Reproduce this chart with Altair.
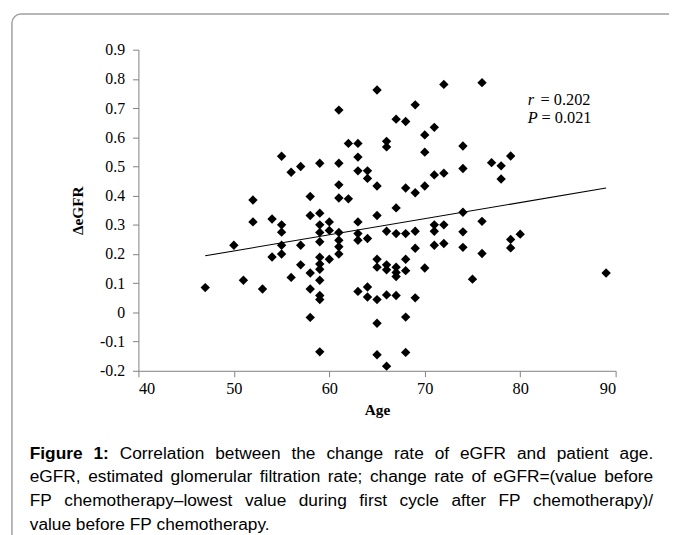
import altair as alt
import pandas as pd

# ---------------- data ----------------
age = [47, 50, 51, 52, 52, 53, 54, 54,
       55, 55, 55, 55, 55, 56, 56, 57, 57, 57,
       58, 58, 58, 58, 58,
       59, 59, 59, 59, 59, 59, 59, 59, 59, 59, 59, 59,
       60, 60, 60,
       61, 61, 61, 61, 61, 61, 61, 61,
       62, 62,
       63, 63, 63, 63, 63, 63, 63,
       64, 64, 64, 64, 64,
       65, 65, 65, 65, 65, 65, 65, 65,
       66, 66, 66, 66, 66, 66, 66,
       67, 67, 67, 67, 67, 67, 67,
       68, 68, 68, 68, 68, 68, 68,
       69, 69, 69, 69, 69,
       70, 70, 70, 70,
       71, 71, 71, 71, 71,
       72, 72, 72, 72,
       74, 74, 74, 74, 74,
       75, 76, 76, 76, 77, 78, 78, 79, 79, 79, 80, 89]

delta_egfr = [0.085, 0.23, 0.11, 0.385, 0.31, 0.08, 0.32, 0.19,
              0.535, 0.30, 0.275, 0.23, 0.20, 0.48, 0.12, 0.50, 0.23, 0.163,
              0.397, 0.332, 0.135, 0.08, -0.017,
              0.511, 0.34, 0.30, 0.274, 0.242, 0.189, 0.166, 0.148, 0.11, 0.058, 0.044, -0.135,
              0.31, 0.281, 0.182,
              0.693, 0.511, 0.437, 0.392, 0.274, 0.247, 0.225, 0.20,
              0.579, 0.389,
              0.579, 0.532, 0.485, 0.31, 0.27, 0.247, 0.072,
              0.485, 0.459, 0.253, 0.087, 0.053,
              0.762, 0.433, 0.332, 0.182, 0.155, 0.044, -0.037, -0.145,
              0.586, 0.567, 0.278, 0.163, 0.146, 0.06, -0.184,
              0.662, 0.358, 0.27, 0.155, 0.137, 0.123, 0.058,
              0.654, 0.426, 0.27, 0.182, 0.143, -0.016, -0.137,
              0.711, 0.41, 0.278, 0.22, 0.05,
              0.608, 0.549, 0.433, 0.152,
              0.634, 0.471, 0.30, 0.278, 0.23,
              0.781, 0.477, 0.30, 0.236,
              0.57, 0.493, 0.343, 0.276, 0.223,
              0.114, 0.787, 0.312, 0.202, 0.513, 0.502, 0.457, 0.536, 0.25, 0.221, 0.268, 0.135]

# fitted line end points (as drawn)
line_age = [47, 89]
line_val = [0.194, 0.426]

x_ticks = [40, 50, 60, 70, 80, 90]
y_ticks = [-0.2, -0.1, 0, 0.1, 0.2, 0.3, 0.4, 0.5, 0.6, 0.7, 0.8, 0.9]

caption_lines = [
    [("Figure", True), ("1:", True)] + [(w, False) for w in
        "Correlation between the change rate of eGFR and patient age.".split(" ")],
    [(w, False) for w in
        "eGFR, estimated glomerular filtration rate; change rate of eGFR=(value before".split(" ")],
    [(w, False) for w in
        "FP chemotherapy\u2013lowest value during first cycle after FP chemotherapy)/".split(" ")],
    [(w, False) for w in "value before FP chemotherapy.".split(" ")],
]

# ---------------- layout helpers ----------------
W, H = 483, 325
SERIF = "Liberation Serif"
SANS = "Liberation Sans"
CAP_SIZE = 17.5

W_REG = {' ': 278, 'a': 556, 'b': 556, 'c': 500, 'd': 556, 'e': 556, 'f': 278, 'g': 556,
         'h': 556, 'i': 222, 'l': 222, 'm': 833, 'n': 556, 'o': 556, 'p': 556, 'r': 333,
         's': 500, 't': 278, 'u': 556, 'v': 500, 'w': 722, 'y': 500, 'C': 722, 'F': 611,
         'G': 778, 'P': 667, 'R': 722, '.': 278, ',': 278, ';': 278, ':': 278, '=': 584,
         '(': 333, ')': 333, '/': 278, '\u2013': 556, '1': 556}
W_BOLD = {' ': 278, 'F': 611, 'i': 278, 'g': 611, 'u': 611, 'r': 389, 'e': 556, '1': 556, ':': 333}


def tw(s, bold):
    tbl = W_BOLD if bold else W_REG
    return sum(tbl.get(ch, 556) for ch in s) * CAP_SIZE / 1000.0


left_px, right_px = 30 - 140, 661 - 140
line_y = [409, 433, 457, 481]
rows = []
for li, words in enumerate(caption_lines):
    widths = [tw(w, b) for w, b in words]
    if li < 3:
        gap = (right_px - left_px - sum(widths)) / (len(words) - 1)
    else:
        gap = tw(" ", False)
    x = left_px
    for (w, b), wd in zip(words, widths):
        rows.append({"px": x, "py": line_y[li], "word": w, "bold": b})
        x += wd + gap
cap = pd.DataFrame(rows)

pts = pd.DataFrame({"age": age, "val": delta_egfr})
fit = pd.DataFrame({"age": line_age, "val": line_val})

xscale = alt.Scale(domain=[40, 90], nice=False, zero=False)
yscale = alt.Scale(domain=[-0.2, 0.9], nice=False, zero=False)

AX = "#808080"
xaxis = alt.Axis(values=x_ticks, title="Age", grid=False, tickSize=6, labelPadding=4,
                 labelFont=SERIF, labelFontSize=16.5, labelColor="black", labelOverlap=False,
                 domainColor=AX, tickColor=AX, titleFont=SERIF, titleFontSize=15.5,
                 titleFontWeight="bold", titleColor="black", titleY=39, titleX=W / 2,
                 titleBaseline="middle", titleAlign="center")
yaxis = alt.Axis(values=y_ticks, title="\u0394eGFR", grid=False, tickSize=6, labelPadding=8,
                 labelFont=SERIF, labelFontSize=16, labelColor="black", labelOverlap=False,
                 labelExpr="datum.value == 0 ? '0' : (datum.value < 0 ? '-' : '') + format(abs(datum.value), '.1f')",
                 domainColor=AX, tickColor=AX, titleFont=SERIF, titleFontSize=15.5,
                 titleFontWeight="bold", titleColor="black", titleAngle=270,
                 titleX=-62, titleY=H / 2, titleBaseline="middle", titleAlign="center")

points = alt.Chart(pts).mark_point(shape="diamond", filled=True, size=90, color="black",
                                   opacity=1).encode(
    x=alt.X("age:Q", scale=xscale, axis=xaxis),
    y=alt.Y("val:Q", scale=yscale, axis=yaxis),
)

line = alt.Chart(fit).mark_line(color="black", strokeWidth=1.1).encode(
    x=alt.X("age:Q", scale=xscale, axis=xaxis),
    y=alt.Y("val:Q", scale=yscale, axis=yaxis),
)

one = pd.DataFrame({"k": [0]})


def txt(s, x, y, **kw):
    return alt.Chart(one).mark_text(align="left", baseline="middle", font=SERIF,
                                    fontSize=16.5, color="black", **kw).encode(
        x=alt.value(x), y=alt.value(y), text=alt.value(s))


ann = [
    txt("r", 394, 51, fontStyle="italic"),
    txt("= 0.202", 407, 51),
    txt("P", 394, 69, fontStyle="italic"),
    txt("= 0.021", 408, 69),
]

cap_reg = alt.Chart(cap).transform_filter("!datum.bold").mark_text(
    align="left", baseline="middle", font=SANS, fontSize=CAP_SIZE, color="black").encode(
    x=alt.X("px:Q", scale=None), y=alt.Y("py:Q", scale=None), text="word:N")
cap_bold = alt.Chart(cap).transform_filter("datum.bold").mark_text(
    align="left", baseline="middle", font=SANS, fontSize=CAP_SIZE, fontWeight="bold",
    color="black").encode(
    x=alt.X("px:Q", scale=None), y=alt.Y("py:Q", scale=None), text="word:N")

border = alt.Chart(one).mark_rect(fill="white", fillOpacity=0, stroke="#a0a0a0",
                                  strokeWidth=1.5, cornerRadius=9).encode(
    x=alt.value(-128), x2=alt.value(600), y=alt.value(-36), y2=alt.value(600))

chart = alt.layer(border, points, line, *ann, cap_reg, cap_bold).properties(
    width=W, height=H,
    autosize=alt.AutoSizeParams(type="none"),
    padding={"left": 132, "top": 39, "right": 54, "bottom": 163},
    background="white",
).configure_view(stroke=None)

chart.save("out.html", embed_options={"renderer": "svg", "actions": False})
